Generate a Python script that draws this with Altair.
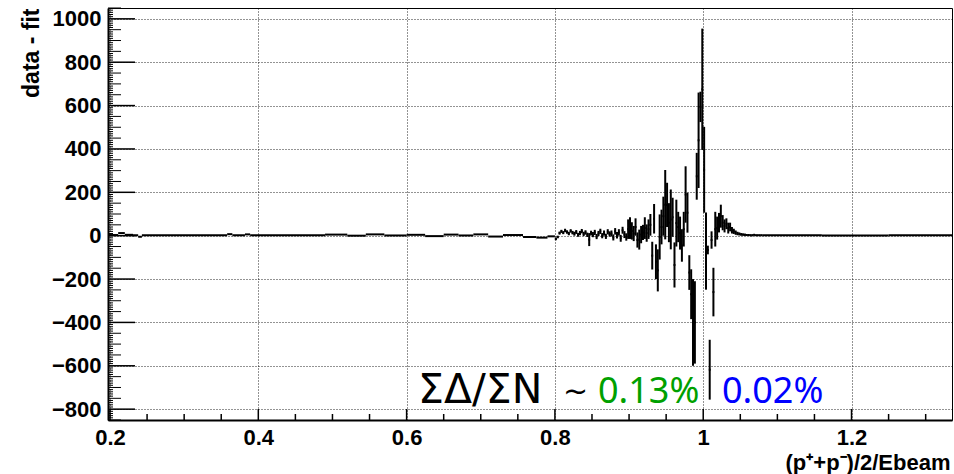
import altair as alt
import numpy as np
import pandas as pd

# ---------------- axis ranges ----------------
X_MIN, X_MAX = 0.1973, 1.3355
Y_MIN, Y_MAX = -850, 1050
W, H = 844, 412

# ---------------- data ----------------
# low-x flat part: variable-width segments (edges) and residual values
low_edges = [0.1973, 0.211, 0.220, 0.231, 0.238, 0.243, 0.358, 0.365, 0.382, 0.389,
             0.49, 0.52, 0.545, 0.57, 0.60, 0.625, 0.65, 0.67, 0.69, 0.71, 0.73,
             0.757, 0.775, 0.79, 0.80]
low_values = [3, 12, 4, 2, -5, 2, 7, 2, 6, 2, 5, 0, 6, 1, 4, -2, 5, 1, 6, -4, 3, -6, -9, -3]

# peak region: bins of width 0.0025 starting at 0.80
peak_start = 0.80
peak_width = 0.0025
peak_values = [
    -15, -6, 12, 20, 14, 24, 17, 10, 22, 14,
    9, 17, 4, 12, 21, 8, 15, 4, -18, 12,
    5, 15, -4, 10, 20, 0, 12, -3, 18, 8,
    10, -8, 20, 2, 15, -12, 25, 5, -6, 30,
    35, 22, 10, 40, -20, -18, 5, 15, 35, 12,
    30, 50, -92, 78, -120, -160, -6, 40, 90, 143,
    142, 60, 75, 85, -135, 58, 40, 12, -45, 30,
    190, 106, -170, -270, -400, -400, 274, 440, 594, 675,
    304, -71, -66, -618, -20, -260, 30, 35, 60, 90,
    60, 45, 55, 35, 40, 25, 20, 14, 10, 8,
    6, 5, 4, 3, 3, 2, 2, 4, 2, 2, 2, 2]
peak_errors = [
    6, 6, 7, 7, 7, 8, 8, 8, 8, 8,
    9, 9, 9, 10, 10, 10, 10, 10, 30, 11,
    12, 12, 12, 12, 12, 12, 12, 12, 12, 12,
    14, 14, 15, 15, 15, 16, 16, 16, 17, 45,
    50, 40, 35, 40, 35, 46, 40, 35, 50, 40,
    45, 50, 64, 68, 80, 97, 104, 80, 90, 160,
    102, 90, 138, 90, 104, 108, 70, 76, 75, 80,
    130, 92, 80, 115, 200, 190, 108, 220, 70, 280,
    198, 178, 20, 138, 40, 112, 80, 53, 45, 53,
    35, 30, 25, 25, 20, 15, 12, 10, 8, 7,
    6, 5, 5, 4, 4, 4, 4, 4, 3, 3, 3, 3]

# high-x flat part
high_edges = [1.08, 1.16, 1.25, 1.3355]
high_values = [2, 1, 2]

# axis ticks and labels
x_labels = [0.2, 0.4, 0.6, 0.8, 1.0, 1.2]
x_minor = [0.25, 0.3, 0.35, 0.45, 0.5, 0.55, 0.65, 0.7, 0.75, 0.85, 0.9, 0.95,
           1.05, 1.1, 1.15, 1.25, 1.3]
y_labels = list(range(-800, 1001, 200))
y_mid = [v for v in range(-850, 1051, 50) if v % 200 != 0]
y_small = [v for v in range(-850, 1051, 10) if v % 50 != 0]

annot_black = "ΣΔ/ΣN"
annot_tilde = "~"
annot_green = "0.13%"
annot_blue = "0.02%"

# ---------------- build table ----------------
rows = []
for lo, hi, v in zip(low_edges[:-1], low_edges[1:], low_values):
    rows.append(dict(lo=lo, hi=hi, val=v, err=0))
for i, (v, e) in enumerate(zip(peak_values, peak_errors)):
    lo = peak_start + i * peak_width
    rows.append(dict(lo=lo, hi=lo + peak_width, val=v, err=e))
for lo, hi, v in zip(high_edges[:-1], high_edges[1:], high_values):
    rows.append(dict(lo=lo, hi=hi, val=v, err=0))
df = pd.DataFrame(rows)
df["mid"] = (df["lo"] + df["hi"]) / 2
df["top"] = df["val"] + df["err"]
df["bot"] = df["val"] - df["err"]
df_err = df[df["err"] > 0]

xs = alt.Scale(domain=[X_MIN, X_MAX], nice=False, zero=False)
ys = alt.Scale(domain=[Y_MIN, Y_MAX], nice=False, zero=False)

LABEL_FONT = "Liberation Sans"

x_axis = alt.Axis(values=x_labels, format="~g", grid=True, gridDash=[1, 2],
                  gridColor="#000000", gridWidth=1, gridOpacity=0.85,
                  ticks=False, tickSize=0, domain=True, domainColor="black",
                  domainWidth=2, labelFont=LABEL_FONT, labelFontWeight=700,
                  labelFontSize=22, labelColor="black", labelPadding=7,
                  labelFlush=False, labelOverlap=False,
                  title="(p⁺+p⁻)/2/Ebeam", titleFont=LABEL_FONT,
                  titleFontWeight=700, titleFontSize=22, titleColor="black",
                  titleAnchor="end", titleAlign="right", titleBaseline="alphabetic",
                  titleX=W - 2, titleY=49, titleAngle=0)
y_axis = alt.Axis(values=y_labels, format="d", grid=True, gridDash=[1, 2],
                  gridColor="#000000", gridWidth=1, gridOpacity=0.85,
                  ticks=False, tickSize=0, domain=True, domainColor="black",
                  domainWidth=2, labelFont=LABEL_FONT, labelFontWeight=700,
                  labelFontSize=22, labelColor="black", labelPadding=7,
                  labelFlush=False, labelOverlap=False,
                  title="data - fit", titleFont=LABEL_FONT, titleFontWeight=700,
                  titleFontSize=23, titleColor="black", titleAngle=270,
                  titleAlign="right", titleBaseline="alphabetic",
                  titleX=-70, titleY=0)

horiz = alt.Chart(df).mark_rule(color="black", strokeWidth=2, clip=True).encode(
    x=alt.X("lo:Q", scale=xs, axis=x_axis),
    x2="hi:Q",
    y=alt.Y("val:Q", scale=ys, axis=y_axis),
)
vert = alt.Chart(df_err).mark_rule(color="black", strokeWidth=2, clip=True).encode(
    x=alt.X("mid:Q", scale=xs),
    y=alt.Y("bot:Q", scale=ys),
    y2="top:Q",
)

# inward ticks (ROOT style)
yt_major = alt.Chart(pd.DataFrame({"v": y_labels})).mark_rule(color="black", strokeWidth=1.5).encode(
    y=alt.Y("v:Q", scale=ys), x=alt.value(0), x2=alt.value(27))
yt_mid = alt.Chart(pd.DataFrame({"v": y_mid})).mark_rule(color="black", strokeWidth=1).encode(
    y=alt.Y("v:Q", scale=ys), x=alt.value(0), x2=alt.value(13))
yt_small = alt.Chart(pd.DataFrame({"v": y_small})).mark_rule(color="black", strokeWidth=1).encode(
    y=alt.Y("v:Q", scale=ys), x=alt.value(0), x2=alt.value(5))
xt_major = alt.Chart(pd.DataFrame({"v": x_labels})).mark_rule(color="black", strokeWidth=1.5).encode(
    x=alt.X("v:Q", scale=xs), y=alt.value(H), y2=alt.value(H - 11))
xt_minor = alt.Chart(pd.DataFrame({"v": x_minor})).mark_rule(color="black", strokeWidth=1.5).encode(
    x=alt.X("v:Q", scale=xs), y=alt.value(H), y2=alt.value(H - 6))

ANN_FONT = "Noto Sans"
ANN_SIZE = 36
t1 = alt.Chart(pd.DataFrame({"t": [annot_black]})).mark_text(
    align="left", baseline="alphabetic", font="DejaVu Sans", fontSize=41, color="black"
).encode(text="t:N", x=alt.value(310), y=alt.value(395))
t1b = alt.Chart(pd.DataFrame({"t": [annot_tilde]})).mark_text(
    align="left", baseline="alphabetic", font="DejaVu Sans", fontSize=30, color="black"
).encode(text="t:N", x=alt.value(455), y=alt.value(393))
t2 = alt.Chart(pd.DataFrame({"t": [annot_green]})).mark_text(
    align="left", baseline="alphabetic", font=ANN_FONT, fontSize=ANN_SIZE, color="#00a000"
).encode(text="t:N", x=alt.value(490), y=alt.value(395))
t3 = alt.Chart(pd.DataFrame({"t": [annot_blue]})).mark_text(
    align="left", baseline="alphabetic", font=ANN_FONT, fontSize=ANN_SIZE, color="#0000ff"
).encode(text="t:N", x=alt.value(614), y=alt.value(395))

chart = alt.layer(horiz, vert, yt_major, yt_mid, yt_small, xt_major, xt_minor,
                  t1, t1b, t2, t3).properties(
    width=W, height=H,
    autosize=alt.AutoSizeParams(type="none"),
    padding={"left": 108, "top": 8, "right": 2, "bottom": 54},
    background="white",
).configure_view(stroke="black", strokeWidth=1)

chart.save("out.html", embed_options={"renderer": "svg", "actions": False})
